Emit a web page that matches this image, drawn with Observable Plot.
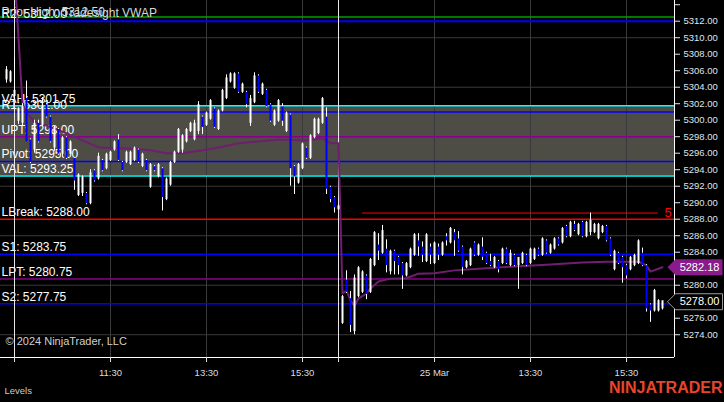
<!DOCTYPE html>
<html><head><meta charset="utf-8">
<script src="https://cdn.jsdelivr.net/npm/d3@7"></script>
<script src="https://cdn.jsdelivr.net/npm/@observablehq/plot@0.6"></script>
<style>
html,body{margin:0;padding:0;background:#000;}
#chart{width:724px;height:402px;overflow:hidden;}
</style></head><body><div id="chart"></div>
<script>
// ---- Session 1 (22 Mar, 5-minute bars, index of first bar = -2) ----
const s1First = -2;
const s1Open = [5305,5304.75,5303,
 5300,5299.75,5302.5,5297.5,5296.5,5299.5,5299.5,5301.75,5300.25,5296.75,
 5298.75,5296,5297.75,5296,5295.25,5291,5291.25,5291,5290,5293.75,
 5293,5295,5294.25,5295.25,5296.5,5297.5,5294.75,5295,5294.75,5295.25,
 5296.25,5294.5,5295,5292,5294.25,5293.25,5294,5290.5,5292.25,5295,
 5296.25,5296.5,5297.5,5298.75,5297.75,5298.75,5300.25,5299.5,5300.25,5301.25,
 5299,5301.25,5302.75,5304.75,5304,5305.5,5303.5,5303.25,5299.75,5302.25,
 5305.25,5303.25,5303.5,5301.75,5299.5,5300,5301.5,5298.75,5300.5,5294.25,
 5292.5,5294.25,5296.5,5295.5,5298,5298.5,5299.75,5300.25,5291.75,5290.5,5289.25];
const s1High = [5306.5,5306,5307.5,
 5301.5,5302,5304.75,5297.75,5300,5300,5302.75,5302,5300.5,5299.25,
 5299,5298,5298,5297.5,5295.5,5293.5,5293.25,5291.25,5294,5294,
 5296,5295.25,5296,5296.25,5297.5,5298.25,5295,5296.25,5296.25,5296.75,
 5296.5,5296,5295.25,5294.75,5294.5,5294.75,5294.25,5293,5295,5296.25,
 5299,5298.25,5299,5299.75,5300,5302.25,5300.5,5301,5302.5,5301.5,
 5301.25,5303.75,5305.5,5305.75,5305.75,5305.75,5304.5,5303.5,5303,5305.75,
 5305.5,5304.5,5303.75,5302,5301.25,5302.5,5302,5301,5300.75,5294.5,
 5294.75,5297.25,5296.75,5298.25,5300.25,5300.25,5302.75,5301.5,5292,5290.75,5289.75];
const s1Low = [5304.5,5304.5,5302.5,
 5299.5,5299.25,5297.5,5294.75,5296,5297.25,5299.25,5300.25,5297.25,5296.25,
 5295.75,5295.5,5295.25,5296,5291.5,5290.75,5290.75,5289.75,5289.75,5292.5,
 5292.75,5293.75,5294,5295,5296.25,5295,5293.75,5294.75,5294.5,5295,
 5294.75,5294.25,5293.75,5291.75,5293.75,5293,5289,5290.25,5292,5294.75,
 5296,5296,5297.25,5298.5,5297.5,5298.25,5298.25,5299.25,5300,5299,
 5298.75,5301,5302.5,5304.5,5303.75,5303.25,5303.25,5301.5,5299.25,5302,
 5303.25,5303,5301.5,5299.75,5299.25,5299.75,5299.25,5298.5,5292,5291,
 5292.25,5294,5295.25,5295.25,5297.75,5298.25,5299.5,5291,5290,5288.75,5289.25];
const s1Close = [5306,5305.75,5303.5,
 5301.25,5301.5,5297.5,5295,5299.5,5297.5,5301.5,5300.5,5297.5,5299,
 5296,5297.75,5295.5,5297.25,5292.75,5293.25,5293,5290,5293.5,5292.75,
 5295.5,5294,5295.75,5296,5297.25,5295.25,5294,5296,5296,5296.5,
 5295,5295.75,5294,5294.5,5294,5294.5,5290.75,5292.75,5294.75,5296,
 5298.75,5298,5298.75,5299.5,5299.5,5301.75,5299.25,5300.75,5302.25,5299.25,
 5301,5303.5,5305,5305.5,5305.5,5303.5,5304.25,5302,5302.5,5305.25,
 5303.5,5304.25,5301.75,5300,5301,5302.25,5300,5300.75,5294.25,5293.25,
 5294.5,5297,5295.5,5298,5300,5300,5302.5,5291.75,5290.5,5289.5,5289.5];

// ---- Session 2 (25 Mar, index of first bar = 82) ----
const s2First = 82;
const s2Open = [5275.5,5280.5,5278.25,5274.5,5278.75,5279.25,5281,5279.25,5282.5,
 5284.75,5284,5284.25,5281.75,5284,5283.25,5282.5,5281.25,5282.25,5283.75,
 5285.25,5284.5,5283,5284.5,5282.75,5284.5,5283.75,5285.75,5285.25,5286.25,
 5285.5,5284.5,5282.25,5282.5,5285,5283.75,5284.5,5283.75,5282.75,5282.25,
 5282.75,5282.75,5284.25,5282.5,5283.5,5282.5,5282.75,5283.5,5282.75,5283.25,
 5284.25,5283.75,5285.25,5284,5284.5,5285.5,5285.25,5287,5286,5287.25,
 5286.25,5287.5,5286,5286.5,5286.5,5285.75,5286.5,5287,5285.5,5282,
 5283.75,5283.25,5282.25,5282,5282.5,5282.75,5283.75,5282.25,5277.5,5277,
 5277,5277.25];
const s2High = [5278.75,5281.75,5279.25,5281.25,5282.25,5281.75,5281.25,5283.25,5286.5,
 5286.25,5287.25,5285.5,5284.25,5284.25,5283.5,5282.75,5282.75,5284.5,5286.25,
 5286.25,5285.25,5286.25,5285,5285.25,5285,5285.25,5286.25,5287,5286.75,
 5286.5,5284.75,5283,5284.5,5285.25,5285,5285.75,5284,5283.75,5283.5,
 5283,5284.5,5284.5,5284.25,5283.75,5283.25,5284,5283.75,5284.5,5284.5,
 5284.5,5285.75,5285.5,5285,5285.75,5285.75,5287,5287.25,5287.75,5287.75,
 5287.5,5287.75,5287.75,5288.75,5287.5,5287.5,5287.25,5287.25,5285.75,5284.25,
 5284,5283.5,5282.5,5283.5,5283.75,5285.5,5284.5,5282.5,5277.75,5279.5,
 5278.25,5278];
const s2Low = [5275.25,5279,5274.25,5274,5278.5,5279,5278.25,5279,5282.25,
 5283,5283.75,5281.5,5281.25,5281.25,5281.25,5279.5,5281,5282,5283.5,
 5283.5,5282.75,5282.75,5282.5,5282.5,5283,5283.5,5284.75,5285,5283.5,
 5284,5281.25,5282,5282.25,5283.5,5283.5,5283,5282.5,5282.25,5282,
 5281.5,5282.5,5282.5,5282.25,5282.25,5279.5,5282.5,5282.25,5282.5,5283,
 5283.5,5283.5,5283.75,5283.75,5284.25,5284.75,5285,5285.75,5285.75,5286.5,
 5286,5285.75,5285.75,5286,5286.25,5285.5,5286.25,5285.25,5283.5,5281.75,
 5282.5,5280.25,5280.75,5281.75,5282.25,5282.5,5282.25,5276.75,5275.5,5276.75,
 5276.75,5277];
const s2Close = [5278.5,5279.25,5275.25,5280.75,5282,5281.5,5279,5283,5286.25,
 5284.25,5286.5,5282.5,5284,5283,5282.5,5281.25,5282.5,5284.25,5286,
 5284.75,5283.75,5286,5283.75,5285,5283.75,5285,5285.5,5286.75,5285.5,
 5284.25,5282.25,5282.75,5284.25,5283.75,5284.75,5283.5,5282.75,5282.5,5283.25,
 5282,5284.25,5282.75,5283.75,5282.5,5283.25,5283.75,5282.5,5284.25,5284.25,
 5283.75,5285.5,5284,5284.75,5285.5,5285,5286.75,5286,5287.5,5286.75,
 5287.25,5286,5287.5,5287.75,5287.25,5287.25,5287,5285.5,5283.75,5284,
 5282.75,5282.25,5281.25,5283.25,5283.5,5285.25,5282.5,5277.25,5277,5279.25,
 5278,5278];

// ---- VWAP readings (bar index, value) ----
const vwapBars = [0,2,3,5,8,10,13,17,21,26,30,34,38,42,47,51,56,60,66,73,77,79,81,
 82,83,84,85,86,88,89,91,94,98,101,105,110,116,124,134,142,148,156,158,159,161,162];
const vwapValues = [5318,5302,5300.9,5299.8,5299.35,5299,5298.4,5297.55,5296.7,5296.6,5296.55,5296.35,5296,5296,5296.35,5296.7,5297.2,5297.4,5297.65,5297.55,5297.8,5297.2,5297.2,
 5279,5279.35,5278.15,5277.5,5278.4,5279,5279.6,5280.45,5280.8,5280.85,5281.4,5281.45,5281.8,5282,5282.25,5282.5,5282.75,5282.85,5282.85,5282.4,5281.65,5282,5282.18];

// ---- Levels ----
const levelNames = ["R2","VAH","R1","UPT","Pivot","VAL","LBreak","S1","LPT","S2"];
const levelValues = [5312.00,5301.75,5301.00,5298.00,5295.00,5293.25,5288.00,5283.75,5280.75,5277.75];
const priorHigh = 5312.50;
const valueArea = [5293.25, 5301.75];
const sessionHigh = 5288.75;
const sessionHighLabel = "5";   // the part of the label left visible at the axis edge
const sessionHighBars = [87, 161];
const lastPrice = 5278.00;
const lastVwap = 5282.18;

// ---- Axis ----
const sessionBreaks = [0, 81];
const tickBars = [0, 24, 48, 72, 81, 105, 129, 153];
const tickLabels = ["", "11:30", "13:30", "15:30", "", "25 Mar", "13:30", "15:30"];
const priceTicks = d3.range(5274, 5315, 2);
const hiddenPriceLabels = [5314, 5282, 5278];
const gridPrices = [5274, 5280, 5286, 5292, 5298, 5304, 5310];
const gridBars = [24, 48, 72, 105, 129, 153];

// styles
const levelColor = {R2:"#0000ff",VAH:"#00ffff",R1:"#0000ff",UPT:"#8b008b",Pivot:"#0000ff",VAL:"#00ffff",LBreak:"#ff0000",S1:"#0000ff",LPT:"#8b008b",S2:"#0000ff"};
const FONT = "'Liberation Sans', Arial, sans-serif";

const bars = [];
s1Open.forEach((o,i)=>bars.push({k:s1First+i,o,h:s1High[i],l:s1Low[i],c:s1Close[i]}));
s2Open.forEach((o,i)=>bars.push({k:s2First+i,o,h:s2High[i],l:s2Low[i],c:s2Close[i]}));
const vwap = vwapBars.map((k,i)=>({k, v: vwapValues[i]}));
const levels = levelNames.map((n,i)=>({n, v: levelValues[i]}));
const tickMap = new Map(tickBars.map((t,i)=>[t, tickLabels[i]]));

const arrowBox = {draw(ctx){ ctx.moveTo(-7,0); ctx.lineTo(1,-8); ctx.lineTo(48,-8); ctx.lineTo(48,8); ctx.lineTo(1,8); ctx.closePath(); }};

const chart = Plot.plot({
  width: 724, height: 402,
  marginLeft: 0, marginRight: 50, marginTop: 0, marginBottom: 45,
  x: {domain: [-3.5, 165], axis: null},
  y: {domain: [5271.24, 5314.51], axis: null},
  style: {background: "#000", fontFamily: FONT},
  marks: [
    Plot.rect([valueArea], {y1: d=>d[0], y2: d=>d[1], fill: "#4d4c45"}),
    Plot.gridY(gridPrices, {stroke: "#3a3a3a", strokeOpacity: 1}),
    Plot.gridX(gridBars, {stroke: "#3a3a3a", strokeOpacity: 1}),
    Plot.ruleY([priorHigh], {stroke: "#00a000", strokeWidth: 1.5}),
    Plot.ruleY(levels, {y: "v", stroke: d=>levelColor[d.n], strokeWidth: d=>d.n==="R2"?2:1.5}),
    Plot.ruleY([sessionHigh], {x1: sessionHighBars[0], x2: sessionHighBars[1], stroke: "#ff0000", strokeWidth: 1}),
    Plot.text([sessionHigh], {x: sessionHighBars[1] + 1.5, y: d=>d, text: () => sessionHighLabel, fill: "#ff0000", fontSize: 13, textAnchor: "start", clip: true}),
    Plot.text(levels, {frameAnchor: "left", y: "v", text: d=>`${d.n}: ${d.v.toFixed(2)}`, dx: 1, dy: -7, textAnchor: "start", fill: "#ffffff", fontSize: 12}),
    Plot.ruleX(sessionBreaks, {stroke: "#e8e8e8", strokeWidth: 1}),
    Plot.line(vwap, {x: "k", y: "v", stroke: "#701e70", strokeWidth: 2, clip: true}),
    Plot.ruleX(bars, {x: "k", y1: "l", y2: "h", stroke: "#ffffff", strokeWidth: 1, clip: true}),
    Plot.ruleX(bars, {x: "k", y1: "o", y2: "c", stroke: d=>d.c>=d.o?"#ffffff":"#0000ff", strokeWidth: 2, strokeLinecap: "square", clip: true}),
    Plot.text(["© 2024 NinjaTrader, LLC"], {frameAnchor: "bottom-left", dx: 5, dy: -13, textAnchor: "start", fill: "#d0d0d0", fontSize: 11}),
    Plot.text(["Tradesight VWAP"], {frameAnchor: "top-left", dx: 62, dy: 8, textAnchor: "start", fill: "#d8d8d8", fontSize: 12}),
    Plot.text(["Prior High: 5312.50"], {frameAnchor: "top-left", dx: 1, dy: 7, textAnchor: "start", fill: "#d8d8d8", fontSize: 12}),
    // axes
    Plot.ruleX([165], {stroke: "#ffffff", strokeWidth: 1}),
    Plot.ruleY([5271.24], {stroke: "#ffffff", strokeWidth: 1}),
    Plot.axisY({anchor: "right", label: null, ticks: priceTicks, tickSize: 5, tickPadding: 4, tickFormat: d => hiddenPriceLabels.includes(d) ? "" : d.toFixed(2), fontSize: 9.5, color: "#dfe6f0"}),
    Plot.axisX({anchor: "bottom", label: null, ticks: tickBars, tickSize: 5, tickPadding: 7, tickFormat: d => tickMap.get(d), fontSize: 9.5, color: "#dddddd"}),
    // price markers
    Plot.dot([lastVwap], {x: 165, y: d=>d, symbol: arrowBox, r: 5, fill: "#8b1a8b", stroke: "none"}),
    Plot.text([lastVwap], {x: 165, y: d=>d, dx: 25, text: d=>d.toFixed(2), fill: "#ffffff", fontSize: 11}),
    Plot.dot([lastPrice], {x: 165, y: d=>d, symbol: arrowBox, r: 5, fill: "#000", stroke: "#9a9a9a", strokeWidth: 1}),
    Plot.text([lastPrice], {x: 165, y: d=>d, dx: 25, text: d=>d.toFixed(2), fill: "#ffffff", fontSize: 11}),
    // footer
    Plot.text(["Levels"], {frameAnchor: "bottom-left", dx: 4, dy: 36, textAnchor: "start", fill: "#cccccc", fontSize: 9.5}),
    Plot.text(["NINJATRADER"], {frameAnchor: "bottom-right", dx: 48, dy: 35, textAnchor: "end", fill: "#e8452c", fontSize: 16, fontWeight: "bold"})
  ]
});
document.getElementById("chart").appendChild(chart);
</script>
</body></html>
